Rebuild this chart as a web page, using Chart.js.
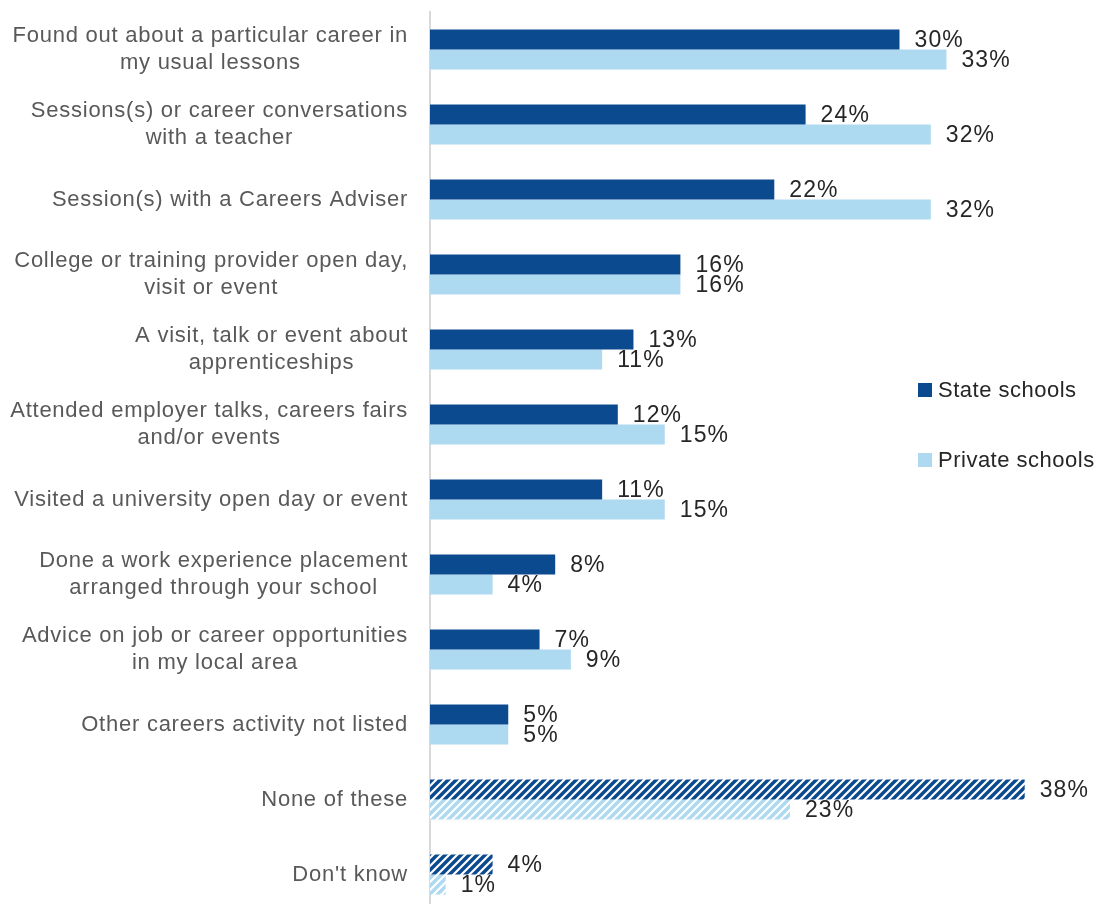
<!DOCTYPE html>
<html lang="en">
<head>
    <meta charset="UTF-8">
    <title>Careers activities by school type</title>
    <script src="https://cdn.jsdelivr.net/npm/chart.js"></script>
    <style>
        html, body { margin: 0; padding: 0; background: #fff; overflow: hidden; }
    </style>
    <script>
        // categories (multi-line labels)
        const categories = [
            ["Found out about a particular career in", "my usual lessons"],
            ["Sessions(s) or career conversations", "with a teacher"],
            ["Session(s) with a Careers Adviser"],
            ["College or training provider open day,", "visit or event"],
            ["A visit, talk or event about", "apprenticeships"],
            ["Attended employer talks, careers fairs", "and/or events"],
            ["Visited a university open day or event"],
            ["Done a work experience placement", "arranged through your school"],
            ["Advice on job or career opportunities", "in my local area"],
            ["Other careers activity not listed"],
            ["None of these"],
            ["Don't know"]
        ];
        const stateSchools = [30, 24, 22, 16, 13, 12, 11, 8, 7, 5, 38, 4];
        const privateSchools = [33, 32, 32, 16, 11, 15, 15, 4, 9, 5, 23, 1];
        // the last two rows are drawn hatched
        const hatchedRows = [10, 11];

        const DARK = '#0c4a90';
        const LIGHT = '#addaf0';
        const FONT = "'Liberation Sans', Arial, sans-serif";

        function makeHatch(color) {
            let c = document.createElement('canvas');
            c.width = 8; c.height = 8;
            let g = c.getContext('2d');
            g.fillStyle = color;
            g.fillRect(0, 0, 8, 8);
            g.strokeStyle = '#ffffff';
            g.lineWidth = 2.2;
            g.beginPath();
            g.moveTo(-2, 10); g.lineTo(10, -2);
            g.moveTo(-6, 6); g.lineTo(6, -6);
            g.moveTo(2, 14); g.lineTo(14, 2);
            g.stroke();
            return g.createPattern(c, 'repeat');
        }

        function fills(color) {
            let pat = makeHatch(color);
            return categories.map((c, i) => hatchedRows.includes(i) ? pat : color);
        }

        // category labels: block right-aligned to the axis, lines centred inside it
        const labelPlugin = {
            id: 'rowLabels',
            afterDraw(chart) {
                const ctx = chart.ctx;
                const y = chart.scales.y;
                ctx.save();
                ctx.font = '22px ' + FONT;
                ctx.letterSpacing = '0.75px';
                ctx.fillStyle = '#595959';
                ctx.textAlign = 'center';
                ctx.textBaseline = 'middle';
                chart.data.labels.forEach((lines, i) => {
                    const cy = y.getPixelForValue(i);
                    const w = Math.max(...lines.map(l => ctx.measureText(l).width));
                    const cx = 408 - w / 2;
                    lines.forEach((l, k) => {
                        ctx.fillText(l, cx, cy + (k - (lines.length - 1) / 2) * 27);
                    });
                });
                ctx.restore();
            }
        };

        // percentage labels at the end of each bar
        const valuePlugin = {
            id: 'barValues',
            afterDatasetsDraw(chart) {
                const ctx = chart.ctx;
                ctx.save();
                ctx.font = '23px ' + FONT;
                ctx.letterSpacing = '1.1px';
                ctx.fillStyle = '#262626';
                ctx.textAlign = 'left';
                ctx.textBaseline = 'middle';
                chart.data.datasets.forEach((ds, d) => {
                    chart.getDatasetMeta(d).data.forEach((bar, i) => {
                        ctx.fillText(ds.data[i] + '%', bar.x + 15, bar.y + 1);
                    });
                });
                ctx.restore();
            }
        };

        // legend sitting inside the plot on the right
        const legendPlugin = {
            id: 'sideLegend',
            afterDraw(chart) {
                const ctx = chart.ctx;
                ctx.save();
                ctx.font = '22px ' + FONT;
                ctx.letterSpacing = '0.5px';
                ctx.textBaseline = 'middle';
                ctx.textAlign = 'left';
                const rows = [390, 460];
                chart.data.datasets.forEach((ds, d) => {
                    ctx.fillStyle = ds.legendColor;
                    ctx.fillRect(918, rows[d] - 7, 14, 14);
                    ctx.fillStyle = '#262626';
                    ctx.fillText(ds.label, 938, rows[d] + 1);
                });
                ctx.restore();
            }
        };

        window.addEventListener('load', function () {
            const ctx = document.getElementById('myChart');
            new Chart(ctx, {
                type: 'bar',
                data: {
                    labels: categories,
                    datasets: [
                        { label: 'State schools', data: stateSchools, backgroundColor: fills(DARK), legendColor: DARK },
                        { label: 'Private schools', data: privateSchools, backgroundColor: fills(LIGHT), legendColor: LIGHT }
                    ]
                },
                options: {
                    indexAxis: 'y',
                    responsive: false,
                    animation: false,
                    categoryPercentage: 0.535,
                    barPercentage: 1,
                    layout: { padding: { top: 12, right: 40, bottom: 0, left: 0 } },
                    plugins: {
                        legend: { display: false },
                        tooltip: { enabled: false }
                    },
                    scales: {
                        x: { display: false, min: 0, max: 40 },
                        y: {
                            display: true,
                            grid: { display: false },
                            ticks: { display: false },
                            border: { display: true, color: '#d9d9d9', width: 2 },
                            afterFit(scale) { scale.width = 430; }
                        }
                    }
                },
                plugins: [labelPlugin, valuePlugin, legendPlugin]
            });
        });
    </script>
</head>
<body>
    <canvas id="myChart" width="1096" height="912"></canvas>
</body>
</html>
